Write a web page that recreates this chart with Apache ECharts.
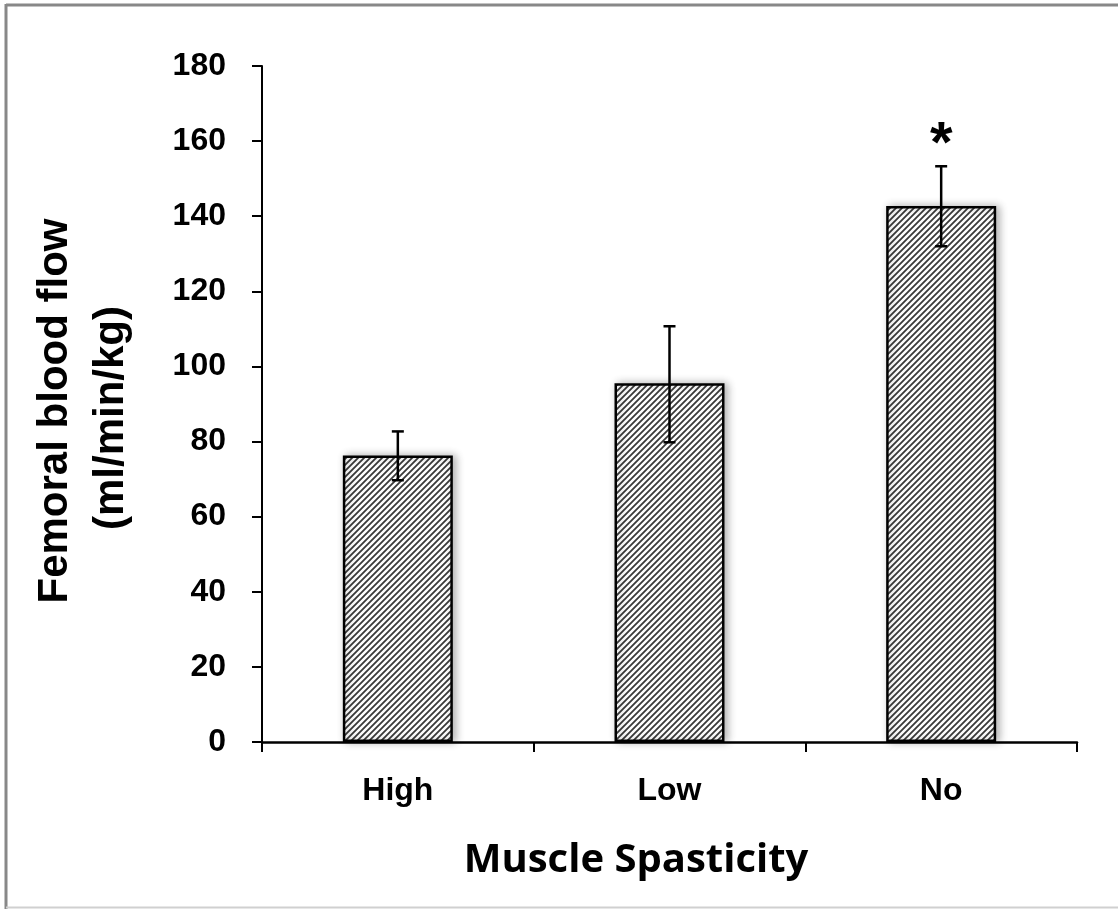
<!DOCTYPE html>
<html>
<head>
<meta charset="utf-8">
<script src="https://cdn.jsdelivr.net/npm/echarts@6/dist/echarts.min.js"></script>
<style>
html,body{margin:0;padding:0;background:#fff;}
#chart{width:1118px;height:909px;}
</style>
</head>
<body>
<div id="chart"></div>
<script>
const categories = ['High', 'Low', 'No'];
const means = [76.3, 95.5, 142.7];
const errLow = [69.7, 79.8, 132.0];
const errHigh = [82.7, 110.7, 153.3];
const marks = ['', '', '*'];
const yTicks = [0, 20, 40, 60, 80, 100, 120, 140, 160, 180];

// hatch pattern
const pc = document.createElement('canvas');
pc.width = 6; pc.height = 6;
const g = pc.getContext('2d');
g.fillStyle = '#ffffff';
g.fillRect(0, 0, 6, 6);
g.strokeStyle = '#3a3a3a';
g.lineWidth = 1.8;
g.beginPath();
g.moveTo(-1, 7); g.lineTo(7, -1);
g.moveTo(-4, 4); g.lineTo(4, -4);
g.moveTo(2, 10); g.lineTo(10, 2);
g.stroke();

const tickFont = '"Liberation Sans", Arial, sans-serif';

const chart = echarts.init(document.getElementById('chart'), null, {renderer: 'canvas'});
const errData = categories.map((c, i) => [i, errLow[i], errHigh[i]]);

chart.setOption({
  animation: false,
  backgroundColor: '#ffffff',
  grid: {left: 262, right: 41, top: 66, bottom: 167, containLabel: false},
  title: {
    text: 'Muscle Spasticity',
    left: 631, top: 836, textAlign: 'center',
    textStyle: {fontFamily: '"Open Sans", "Lato", sans-serif', fontWeight: 'bold', fontSize: 40, color: '#000'}
  },
  xAxis: {
    type: 'category',
    data: categories,
    axisLine: {lineStyle: {color: '#000', width: 2.5}},
    axisTick: {show: true, alignWithLabel: false, length: 10, lineStyle: {color: '#000', width: 2}},
    axisLabel: {margin: 33, color: '#000', fontFamily: tickFont, fontWeight: 'bold', fontSize: 32},
    splitLine: {show: false}
  },
  yAxis: {
    type: 'value',
    min: 0, max: 180, interval: 20,
    axisLine: {show: true, lineStyle: {color: '#000', width: 2}},
    axisTick: {show: true, length: 10, lineStyle: {color: '#000', width: 2}},
    axisLabel: {margin: 36, color: '#000', fontFamily: tickFont, fontWeight: 'bold', fontSize: 32,
      formatter: v => yTicks.includes(v) ? String(v) : ''},
    splitLine: {show: false}
  },
  graphic: [
    {type: 'line', shape: {x1: 6, y1: 5, x2: 1118, y2: 5}, style: {stroke: '#888', lineWidth: 3}, silent: true},
    {type: 'line', shape: {x1: 6, y1: 4, x2: 6, y2: 909}, style: {stroke: '#888', lineWidth: 3}, silent: true},
    {type: 'line', shape: {x1: 6, y1: 907.5, x2: 1118, y2: 907.5}, style: {stroke: '#d0d0d0', lineWidth: 2}, silent: true},
    {type: 'text', x: 55, y: 411, rotation: Math.PI / 2,
      style: {text: 'Femoral blood flow', fontFamily: '"Liberation Sans", Arial, sans-serif', fontWeight: 'bold', fontSize: 42, fill: '#000', align: 'center', verticalAlign: 'middle'}},
    {type: 'text', x: 111, y: 418, rotation: Math.PI / 2,
      style: {text: '(ml/min/kg)', fontFamily: '"Liberation Sans", Arial, sans-serif', fontWeight: 'bold', fontSize: 42, fill: '#000', align: 'center', verticalAlign: 'middle'}}
  ],
  series: [
    {
      type: 'bar',
      data: means,
      barWidth: 110,
      itemStyle: {
        color: {image: pc, repeat: 'repeat'},
        borderColor: '#000', borderWidth: 2.5,
        shadowColor: 'rgba(0,0,0,0.3)', shadowBlur: 8, shadowOffsetX: 3, shadowOffsetY: 0
      },
      z: 2
    },
    {
      type: 'custom',
      data: errData,
      z: 5,
      renderItem: function (params, api) {
        const i = api.value(0);
        const top = api.coord([i, api.value(2)]);
        const bot = api.coord([i, api.value(1)]);
        const x = top[0];
        const hw = 6;
        const st = {stroke: '#000', lineWidth: 2.5};
        const children = [
          {type: 'line', shape: {x1: x, y1: top[1], x2: x, y2: bot[1]}, style: st},
          {type: 'line', shape: {x1: x - hw, y1: top[1], x2: x + hw, y2: top[1]}, style: st},
          {type: 'line', shape: {x1: x - hw, y1: bot[1], x2: x + hw, y2: bot[1]}, style: st}
        ];
        const m = marks[params.dataIndex];
        if (m) {
          children.push({type: 'text', x: x, y: top[1] - 20,
            style: {text: m, fontFamily: '"Liberation Sans", Arial, sans-serif', fontWeight: 'bold', fontSize: 58, fill: '#000', align: 'center', verticalAlign: 'middle'}});
        }
        return {type: 'group', children: children};
      }
    }
  ]
});
</script>
</body>
</html>
